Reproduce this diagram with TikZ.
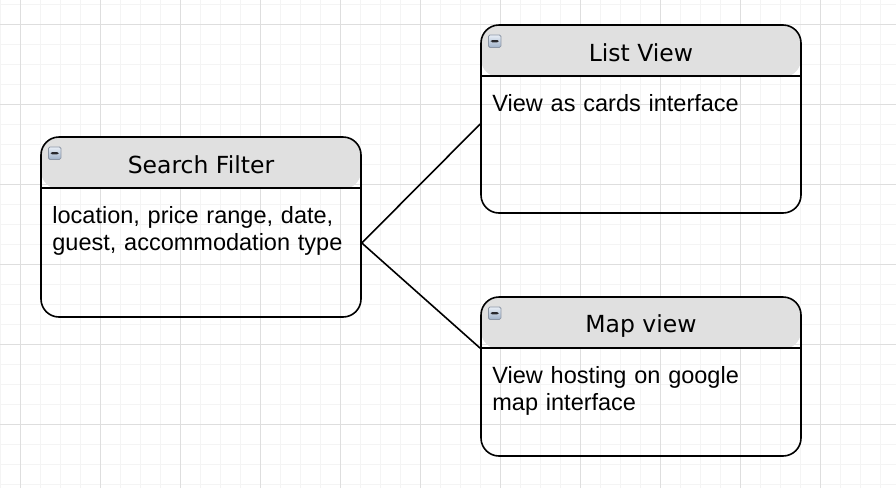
\documentclass[tikz,border=0pt]{standalone}
\usepackage{fontspec}
\setmainfont{Liberation Sans}
\newfontfamily\titlefont{DejaVu Sans}
\usetikzlibrary{positioning}
\definecolor{headgray}{RGB}{224,224,224}
\definecolor{gridminor}{RGB}{244,244,244}
\definecolor{gridmajor}{RGB}{222,222,222}
\definecolor{iconlight}{RGB}{232,238,246}
\definecolor{icondark}{RGB}{160,178,202}
\definecolor{iconedge}{RGB}{140,150,165}
\definecolor{icondash}{RGB}{40,40,45}

\tikzset{
  entity/.style={draw, line width=1.6pt, rounded corners=18pt, minimum width=320pt, inner sep=0pt,
    path picture={\fill[headgray] (path picture bounding box.north west) rectangle ([yshift=-52pt]path picture bounding box.north east);}},
  headrule/.style={line width=1.6pt},
  title/.style={anchor=base, font=\titlefont\fontsize{23.5}{27}\selectfont, inner sep=0pt},
  body/.style={anchor=north west, font=\fontsize{23.5}{27}\selectfont, text width=300pt, align=left, inner sep=0pt},
  icon/.style={draw=iconedge, line width=0.8pt, top color=iconlight, bottom color=icondark, rounded corners=1.5pt, minimum size=12.5pt, inner sep=0pt,
    path picture={\fill[icondash] ([xshift=2.2pt,yshift=-1.2pt]path picture bounding box.west) rectangle ([xshift=-2.2pt,yshift=1.2pt]path picture bounding box.east);}},
  link/.style={line width=1.6pt},
}

\begin{document}
\begin{tikzpicture}[x=1pt, y=-1pt]
\useasboundingbox (0,0) rectangle (896,488);
% Background grid
\fill[white] (0,0) rectangle (896,488);
\foreach \gx in {0,20,...,880} \draw[gridminor, line width=1pt] (\gx,0) -- (\gx,488);
\foreach \gy in {4,24,...,484} \draw[gridminor, line width=1pt] (0,\gy) -- (896,\gy);
\foreach \gx in {20,100,...,820} \draw[gridmajor, line width=1pt] (\gx,0) -- (\gx,488);
\foreach \gy in {24,104,...,424} \draw[gridmajor, line width=1pt] (0,\gy) -- (896,\gy);

% Entities
\node[entity, minimum height=180pt] (search) at (201,227) {};
\node[entity, minimum height=188pt] (list) at (641,119) {};
\node[entity, minimum height=159pt] (map) at (641,376.5) {};

% Header rules
\draw[headrule] ([yshift=-52pt]search.north west) -- ([yshift=-52pt]search.north east);
\draw[headrule] ([yshift=-52pt]list.north west) -- ([yshift=-52pt]list.north east);
\draw[headrule] ([yshift=-52pt]map.north west) -- ([yshift=-52pt]map.north east);

% Collapse icons
\node[icon] (searchicon) at ([xshift=14.5pt,yshift=-17pt]search.north west) {};
\node[icon] (listicon) at ([xshift=14.5pt,yshift=-17pt]list.north west) {};
\node[icon] (mapicon) at ([xshift=14.5pt,yshift=-17pt]map.north west) {};

% Titles
\node[title] (searchtitle) at ([yshift=-37pt]search.north) {Search Filter};
\node[title] (listtitle) at ([yshift=-37pt]list.north) {List View};
\node[title] (maptitle) at ([yshift=-36pt]map.north) {Map view};

% Attributes
\node[body] (searchbody) at ([xshift=12pt,yshift=-70pt]search.north west) {location, price range, date,\\guest, accommodation type};
\node[body] (listbody) at ([xshift=12pt,yshift=-70pt]list.north west) {View as cards interface};
\node[body] (mapbody) at ([xshift=12pt,yshift=-70pt]map.north west) {View hosting on google\\map interface};

% Links
\coordinate (fork) at ([yshift=-16pt]search.east);
\draw[link] (fork) -- ([yshift=-5pt]list.west);
\draw[link] (fork) -- ([yshift=-52pt]map.north west);
\end{tikzpicture}
\end{document}
